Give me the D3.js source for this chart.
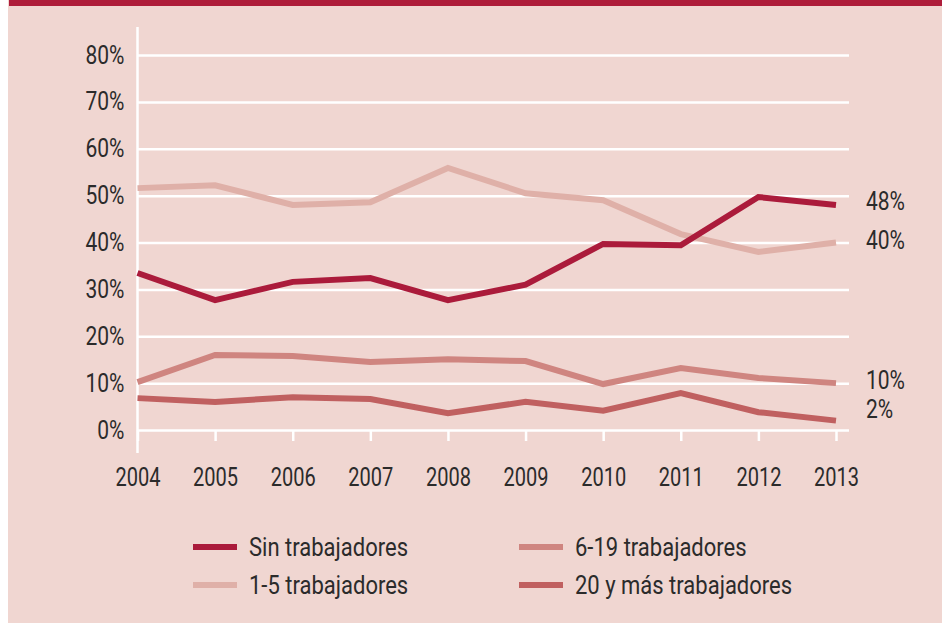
<!DOCTYPE html>
<html>
<head>
<meta charset="utf-8">
<script src="https://cdn.jsdelivr.net/npm/d3@7"></script>
<style>
  html, body { margin: 0; padding: 0; background: #ffffff; }
  svg { display: block; }
  text { font-family: Roboto, "Liberation Sans", sans-serif; font-weight: 400; fill: #2b2b2b; }
</style>
</head>
<body>
<svg id="chart" width="942" height="623"></svg>
<script>
// Años del eje horizontal
const years = [2004, 2005, 2006, 2007, 2008, 2009, 2010, 2011, 2012, 2013];

// Porcentaje de establecimientos según número de trabajadores
const sinTrabajadores   = [33.5, 27.7, 31.6, 32.4, 27.7, 31.0, 39.7, 39.4, 49.7, 48];
const de1a5             = [51.6, 52.2, 48.0, 48.6, 55.9, 50.5, 49.0, 41.8, 38.0, 40];
const de6a19            = [10.2, 16.0, 15.8, 14.5, 15.1, 14.7, 9.8, 13.2, 11.1, 10];
const de20yMas          = [6.8, 6.0, 7.0, 6.6, 3.6, 6.0, 4.1, 7.9, 3.8, 2];

const seriesNames = ["Sin trabajadores", "1-5 trabajadores", "6-19 trabajadores", "20 y más trabajadores"];
const seriesValues = [sinTrabajadores, de1a5, de6a19, de20yMas];

// Ticks del eje vertical
const yTicks = [0, 10, 20, 30, 40, 50, 60, 70, 80];

// Valores rotulados al final de cada serie (último año)
const endLabels = seriesValues.map(v => v[v.length - 1]);

const colors = ["#ab1b3b", "#dfb0a8", "#cf8580", "#c06060"];

const svg = d3.select("#chart");
const W = 942, H = 623;

// Estrecha horizontalmente un texto para imitar una tipografía condensada
function condense(sel, k) {
  sel.each(function () {
    const w = this.getComputedTextLength();
    this.setAttribute("textLength", (w * k).toFixed(1));
    this.setAttribute("lengthAdjust", "spacingAndGlyphs");
  });
}

// Fondo rosado y franja superior
svg.append("rect").attr("x", 8).attr("y", 0).attr("width", W - 8).attr("height", H).attr("fill", "#f0d6d1");
svg.append("rect").attr("x", 9).attr("y", 0).attr("width", W - 9).attr("height", 6).attr("fill", "#ae1c3a");

const x = d3.scaleLinear().domain([2004, 2013]).range([137.5, 836]);
const y = d3.scaleLinear().domain([0, 80]).range([430, 55]);
const gridRight = 849;

// Rejilla horizontal y etiquetas del eje Y
const yAxis = svg.append("g")
  .attr("transform", `translate(${x(2004)},0)`)
  .call(d3.axisLeft(y).tickValues(yTicks).tickSize(-(gridRight - x(2004))).tickPadding(13)
        .tickFormat(d => d + "%"));
yAxis.select(".domain").remove();
yAxis.selectAll("line").attr("stroke", "#ffffff").attr("stroke-width", 2.5);
yAxis.attr("font-family", null).attr("font-size", null);
yAxis.selectAll("text").attr("font-size", 25).attr("fill", "#2b2b2b").call(condense, 0.84);

// Línea vertical del eje Y
svg.append("line")
  .attr("x1", x(2004)).attr("x2", x(2004))
  .attr("y1", 27).attr("y2", 453)
  .attr("stroke", "#ffffff").attr("stroke-width", 2.5);

// Eje X con marcas
const xAxis = svg.append("g")
  .attr("transform", `translate(0,${y(0)})`)
  .call(d3.axisBottom(x).tickValues(years).tickSize(11).tickPadding(27).tickFormat(d3.format("d")));
xAxis.select(".domain").remove();
xAxis.selectAll("line").attr("stroke", "#ffffff").attr("stroke-width", 2.5);
xAxis.attr("font-family", null).attr("font-size", null);
xAxis.selectAll("text").attr("font-size", 25).attr("fill", "#2b2b2b").call(condense, 0.8);

// Líneas de las series
const line = d3.line()
  .x((d, i) => x(years[i]))
  .y(d => y(d));

// Orden de dibujo: las series más claras debajo
const drawOrder = [1, 2, 3, 0];
drawOrder.forEach(k => {
  svg.append("path")
    .datum(seriesValues[k])
    .attr("d", line)
    .attr("fill", "none")
    .attr("stroke", colors[k])
    .attr("stroke-width", 6)
    .attr("stroke-linejoin", "miter");
});

// Rótulos al final de cada serie (ligeramente separados para no solaparse)
const labelShift = [-4, -2, -3, -11.5];
seriesValues.forEach((v, k) => {
  svg.append("text")
    .attr("x", 866)
    .attr("y", y(endLabels[k]) + labelShift[k])
    .attr("dy", "0.35em")
    .attr("font-size", 25)
    .text(d3.format("d")(endLabels[k]) + "%")
    .call(condense, 0.84);
});

// Leyenda en dos columnas
const legendPos = [
  { lx: 193, ty: 547 }, // Sin trabajadores
  { lx: 193, ty: 585 }, // 1-5
  { lx: 519, ty: 547 }, // 6-19
  { lx: 519, ty: 585 }  // 20 y más
];
seriesNames.forEach((name, k) => {
  const p = legendPos[k];
  const g = svg.append("g");
  g.append("line")
    .attr("x1", p.lx).attr("x2", p.lx + 44)
    .attr("y1", p.ty).attr("y2", p.ty)
    .attr("stroke", colors[k]).attr("stroke-width", 6);
  g.append("text")
    .attr("x", p.lx + 56)
    .attr("y", p.ty)
    .attr("dy", "0.35em")
    .attr("font-size", 25)
    .text(name)
    .call(condense, 0.88);
});
</script>
</body>
</html>
